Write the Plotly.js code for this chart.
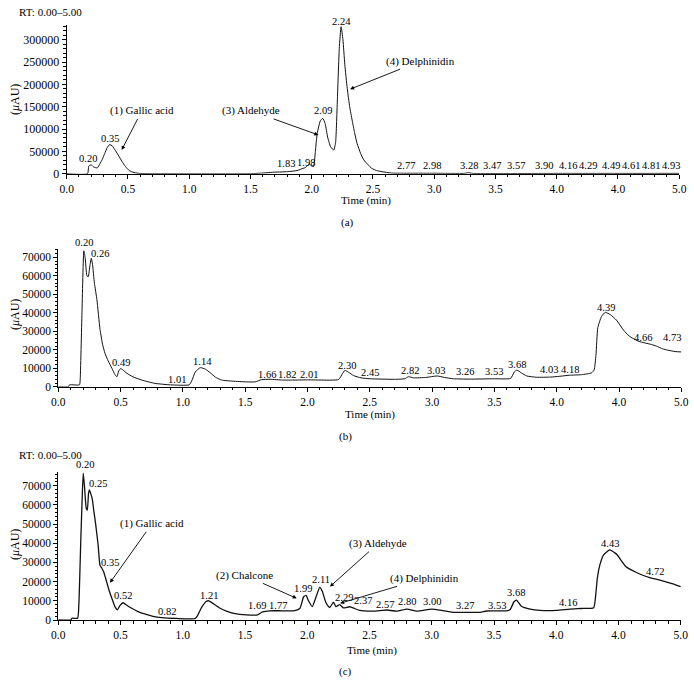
<!DOCTYPE html>
<html>
<head>
<meta charset="utf-8">
<script src="https://cdn.plot.ly/plotly-3.0.1.min.js"></script>
<style>html,body{margin:0;padding:0;background:#fff}#chart{width:694px;height:694px}</style>
</head>
<body>
<div id="chart"></div>
<script>
// ---------- Data: chromatogram (a) ----------
const tA = [0,0.17,0.18,0.20,0.22,0.25,0.27,0.29,0.31,0.33,0.35,0.37,0.39,0.42,0.45,0.48,0.51,0.55,0.60,0.70,1.50,1.60,1.70,1.80,1.88,1.93,1.95,1.98,2.00,2.015,2.03,2.045,2.07,2.09,2.11,2.13,2.155,2.18,2.195,2.21,2.225,2.24,2.255,2.27,2.29,2.31,2.33,2.35,2.37,2.40,2.425,2.46,2.49,2.53,2.575,2.65,2.75,3.00,3.25,3.28,3.31,4.00,5.00];
const yA = [0,0,17000,20000,15000,13000,22000,32000,45000,58000,65000,63000,55000,42000,28000,16000,7000,2500,600,0,0,1500,3500,4500,7000,12000,14000,22000,17000,16000,50000,90000,118000,124000,112000,82000,60000,53000,70000,169000,280000,329000,300000,245000,191000,150000,120000,92000,68000,45000,31000,20000,12000,7000,4500,1500,1000,1000,800,2500,800,700,700];

// ---------- Data: chromatogram (b) ----------
const tB = [0,0.08,0.09,0.17,0.175,0.19,0.205,0.215,0.23,0.24,0.255,0.265,0.275,0.29,0.31,0.335,0.355,0.375,0.40,0.43,0.455,0.47,0.485,0.50,0.52,0.55,0.60,0.67,0.775,0.90,1.05,1.07,1.10,1.14,1.18,1.22,1.26,1.31,1.40,1.51,1.58,1.63,1.70,1.80,1.90,2.00,2.10,2.25,2.28,2.30,2.33,2.37,2.43,2.50,2.70,2.78,2.81,2.85,2.95,3.04,3.10,3.17,3.30,3.50,3.63,3.66,3.68,3.72,3.76,3.84,3.95,4.02,4.10,4.20,4.28,4.30,4.315,4.33,4.36,4.39,4.43,4.48,4.535,4.58,4.61,4.66,4.70,4.75,4.80,4.85,4.89,4.95,5.00];
const yB = [0,0,1000,1000,3000,40000,73500,70000,60000,59500,66000,69500,66000,56000,47000,31000,23000,18000,14000,10000,6500,5400,8500,9800,9000,7300,5300,3600,1800,1000,1000,3000,8000,10300,9500,7500,5200,3600,3000,2600,2600,3800,4000,3600,3600,3700,3600,3900,7000,8800,7800,6000,4800,4300,4000,4300,5400,4800,5000,5800,5000,4300,4100,4300,4500,8000,9000,7300,5800,5100,5200,5600,6200,6500,7500,9000,17000,32000,38000,40200,39000,36000,30700,27500,26200,24500,23800,23000,22000,20500,19800,19000,18800];

// ---------- Data: chromatogram (c) ----------
const tC = [0,0.10,0.11,0.155,0.165,0.18,0.19,0.20,0.21,0.225,0.233,0.243,0.25,0.26,0.273,0.285,0.30,0.32,0.335,0.35,0.365,0.39,0.41,0.43,0.455,0.474,0.495,0.52,0.55,0.59,0.64,0.70,0.76,0.83,0.95,1.10,1.12,1.15,1.19,1.21,1.25,1.30,1.35,1.41,1.51,1.60,1.64,1.70,1.80,1.90,1.94,1.97,1.99,2.01,2.04,2.07,2.10,2.12,2.15,2.18,2.21,2.23,2.26,2.29,2.34,2.38,2.42,2.53,2.60,2.64,2.72,2.80,2.88,3.00,3.09,3.17,3.30,3.39,3.44,3.60,3.63,3.66,3.68,3.72,3.79,3.87,4.00,4.11,4.20,4.30,4.315,4.33,4.35,4.38,4.43,4.47,4.49,4.56,4.64,4.70,4.75,4.86,4.93,5.00];
const yC = [0,0,900,900,8000,40000,60000,76500,70000,58000,57300,66000,67800,66000,63000,57000,50000,39000,28500,27000,25000,19500,15000,11300,7000,5300,7500,9000,7700,6100,4400,3000,1900,1200,800,800,2500,6500,9800,10000,8300,6100,4600,3500,2700,2700,4200,4800,4800,4900,6000,12000,12800,10000,7000,12000,17000,15000,9000,6500,9300,7000,8000,6300,6900,6000,5000,4600,5000,5200,4600,5700,4600,5700,4900,4000,4000,4000,4700,4800,5500,9500,10400,7200,5700,5000,5000,5700,6000,6400,12000,22000,28700,33900,36500,35000,33900,27800,24900,23200,22100,20300,19000,17400];

// ---------- Axis tick labels ----------
const xTickVals = [0,0.5,1.0,1.5,2.0,2.5,3.0,3.5,4.0,4.5,5.0];
const xTickText = ["0.0","0.5","1.0","1.5","2.0","2.5","3.0","3.5","4.0","4.0","5.0"];
const yTickValsA = [0,50000,100000,150000,200000,250000,300000];
const yTickValsBC = [0,10000,20000,30000,40000,50000,60000,70000];

// ---------- Peak retention-time labels (text, x = time, y = label height) ----------
const peakA_text = ["0.20","0.35","1.83","1.98","2.09","2.24","2.77","2.98","3.28","3.47","3.57","3.90","4.16","4.29","4.49","4.61","4.81","4.93"];
const peakA_y = [34500,79400,23300,25600,140600,340800,17900,17900,17900,17900,17900,17900,17900,17900,17900,17900,17900,17900];
const peakA_dx = [-3,0,-5,-3,0,0,0,0,0,0,12,0,-8,-4,-6,0,-5,0];

const peakB_text = ["0.20","0.26","0.49","1.01","1.14","1.66","1.82","2.01","2.30","2.45","2.82","3.03","3.26","3.53","3.68","4.03","4.18","4.39","4.66","4.73"];
const peakB_y = [77900,72100,13000,4000,13500,6700,6700,6700,11700,7600,8700,8700,8100,8100,12100,9400,9400,42900,26500,26500];
const peakB_dx = [1,9,2,-7,2,2,2,0,2,6,0,0,0,-4,0,-11,-9,1,4,24];

const peakC_text = ["0.20","0.25","0.35","0.52","0.82","1.21","1.69","1.77","1.99","2.11","2.29","2.37","2.57","2.80","3.00","3.27","3.53","3.68","4.16","4.43","4.72"];
const peakC_y = [80800,71200,30100,12700,4300,13000,7300,7300,16500,21200,11500,10100,8300,9500,9500,7500,7500,14400,9200,40000,25500];
const peakC_dx = [2,9,8,0,7,0,-12,-1,-3,0,1,10,7,0,0,0,-1,0,-8,0,9];

// ---------- Identified compounds (arrow tip at time / intensity) ----------
const cmpA_text = ["(1) Gallic acid","(3) Aldehyde","(4) Delphinidin"];
const cmpA_t = [0.449,2.054,2.313];
const cmpA_y = [53100,86800,189200];
const cmpC_text = ["(1) Gallic acid","(2) Chalcone","(3) Aldehyde","(4) Delphinidin"];
const cmpC_t = [0.415,1.915,2.182,2.263];
const cmpC_y = [19400,11300,17400,8700];

// ---------- Layout helpers ----------
const W = 694, H = 694;
const FONT = "'Liberation Serif', 'Times New Roman', serif";
const px = v => v / W;
const py = v => 1 - v / H;

// panel geometry (pixels)
const P = {
  a: {x0: 66.7, x1: 679.2, yb: 173.7, yt: 25, ymax: 333000},
  b: {x0: 58.3, x1: 681.3, yb: 386.7, yt: 249, ymax: 74500},
  c: {x0: 58.3, x1: 680.8, yb: 620, yt: 471.7, ymax: 77300}
};

function xAxis(g, anchor) {
  return {
    domain: [px(g.x0), px(g.x1)], anchor: anchor, range: [0, 5], fixedrange: true,
    tickvals: xTickVals, ticktext: xTickText,
    ticks: "outside", ticklen: 4, tickwidth: 1, tickcolor: "#000",
    minor: {dtick: 0.1, ticks: "outside", ticklen: 2.5, tickwidth: 1, tickcolor: "#000"},
    showline: true, linecolor: "#000", linewidth: 1, showgrid: false, zeroline: false,
    tickfont: {family: FONT, size: 11.5, color: "#000"}
  };
}
function yAxis(g, anchor, vals, minorDt, fs) {
  return {
    domain: [py(g.yb), py(g.yt)], anchor: anchor, range: [0, g.ymax], fixedrange: true,
    tickvals: vals, ticktext: vals.map(String),
    ticks: "outside", ticklen: 4, tickwidth: 1, tickcolor: "#000",
    minor: {dtick: minorDt, ticks: "outside", ticklen: 2.5, tickwidth: 1, tickcolor: "#000"},
    showline: true, linecolor: "#000", linewidth: 1, showgrid: false, zeroline: false,
    tickfont: {family: FONT, size: fs, color: "#000"}
  };
}

const traces = [
  {x: tA, y: yA, xaxis: "x", yaxis: "y", type: "scatter", mode: "lines", line: {color: "#111", width: 1, shape: "spline", smoothing: 0.5}, hoverinfo: "skip"},
  {x: tB, y: yB, xaxis: "x2", yaxis: "y2", type: "scatter", mode: "lines", line: {color: "#111", width: 1, shape: "spline", smoothing: 0.5}, hoverinfo: "skip"},
  {x: tC, y: yC, xaxis: "x3", yaxis: "y3", type: "scatter", mode: "lines", line: {color: "#111", width: 1.3, shape: "spline", smoothing: 0.5}, hoverinfo: "skip"}
];

const annotations = [];
function peakLabels(texts, ys, dxs, xr, yr, g) {
  const pxPerUnit = (g.yb - g.yt) / g.ymax;
  texts.forEach((t, i) => {
    let y = ys[i], dy = 0;
    if (y > g.ymax * 0.999) { dy = (y - g.ymax * 0.999) * pxPerUnit; y = g.ymax * 0.999; }
    annotations.push({x: parseFloat(t), y: y, xref: xr, yref: yr, text: t, showarrow: false,
      xanchor: "center", yanchor: "middle", xshift: dxs[i], yshift: dy, font: {family: FONT, size: 10.5, color: "#000"}});
  });
}
peakLabels(peakA_text, peakA_y, peakA_dx, "x", "y", P.a);
peakLabels(peakB_text, peakB_y, peakB_dx, "x2", "y2", P.b);
peakLabels(peakC_text, peakC_y, peakC_dx, "x3", "y3", P.c);

const cmpA_off = [[20,-39],[-67,-24],[70,-28]];
const cmpC_off = [[42,-59],[-52,-23],[48,-43],[84,-25]];
function compounds(texts, ts, ys, offs, xr, yr) {
  texts.forEach((t, i) => {
    annotations.push({x: ts[i], y: ys[i], xref: xr, yref: yr, text: t, showarrow: true,
      ax: offs[i][0], ay: offs[i][1], arrowhead: 2, arrowsize: 0.9, arrowwidth: 0.9, arrowcolor: "#000",
      standoff: 0, startstandoff: 0,
      font: {family: FONT, size: 11, color: "#000"}});
  });
}
compounds(cmpA_text, cmpA_t, cmpA_y, cmpA_off, "x", "y");
compounds(cmpC_text, cmpC_t, cmpC_y, cmpC_off, "x3", "y3");

function paperText(text, x, y, opts) {
  annotations.push(Object.assign({x: px(x), y: py(y), xref: "paper", yref: "paper", text: text, showarrow: false,
    xanchor: "center", yanchor: "middle", font: {family: FONT, size: 11, color: "#000"}}, opts || {}));
}
paperText("RT: 0.00–5.00", 16.7, 11.7, {xanchor: "left"});
paperText("RT: 0.00–5.00", 16.7, 455, {xanchor: "left"});
paperText("(<i>μ</i>AU)", 15, 100, {textangle: -90, font: {family: FONT, size: 12, color: "#000"}});
paperText("(<i>μ</i>AU)", 15, 315, {textangle: -90, font: {family: FONT, size: 12, color: "#000"}});
paperText("(<i>μ</i>AU)", 15, 545, {textangle: -90, font: {family: FONT, size: 12, color: "#000"}});
paperText("Time (min)", 366, 201);
paperText("Time (min)", 370, 414.3);
paperText("Time (min)", 371.7, 650);
paperText("(a)", 347, 222);
paperText("(b)", 345, 436.7);
paperText("(c)", 345, 671.7);

const layout = {
  width: W, height: H,
  margin: {l: 0, r: 0, t: 0, b: 0},
  paper_bgcolor: "#fff", plot_bgcolor: "#fff",
  showlegend: false,
  xaxis: xAxis(P.a, "y"),
  yaxis: yAxis(P.a, "x", yTickValsA, 10000, 12),
  xaxis2: xAxis(P.b, "y2"),
  yaxis2: yAxis(P.b, "x2", yTickValsBC, 2000, 11.5),
  xaxis3: xAxis(P.c, "y3"),
  yaxis3: yAxis(P.c, "x3", yTickValsBC, 2000, 11.5),
  annotations: annotations
};

Plotly.newPlot("chart", traces, layout, {displayModeBar: false, staticPlot: true});
</script>
</body>
</html>
